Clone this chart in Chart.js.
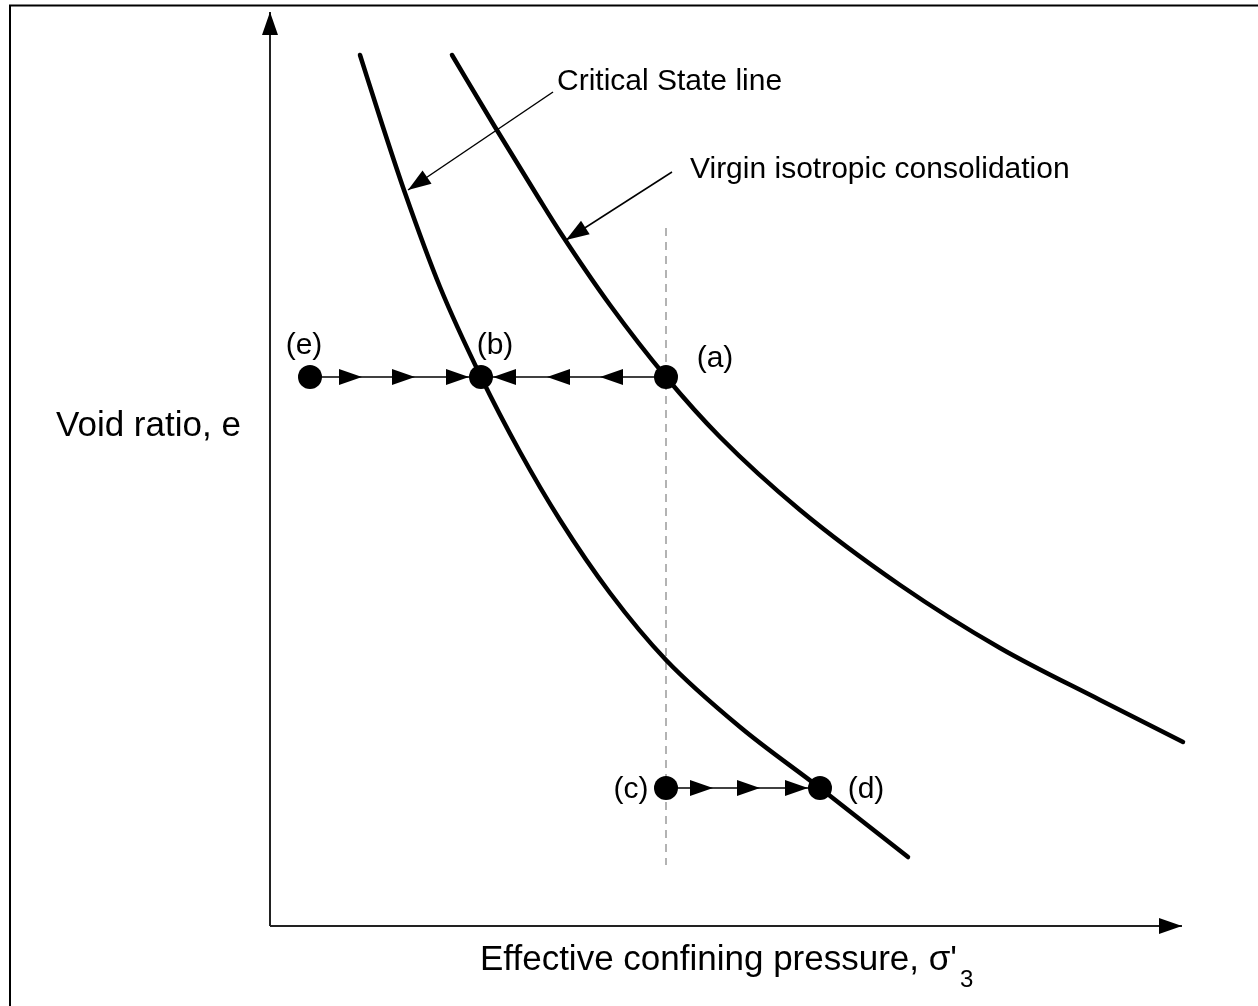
<!DOCTYPE html>
<html>
<head>
<meta charset="utf-8">
<script src="https://cdn.jsdelivr.net/npm/chart.js@4.4.1/dist/chart.umd.min.js"></script>
<style>
    html, body { margin: 0; padding: 0; background: #fff; }
    #wrap { width: 1258px; height: 1006px; }
</style>
</head>
<body>
<div id="wrap"><canvas id="chart" width="1258" height="1006"></canvas></div>
<script>
// Schematic units: origin at the axes corner, x = effective confining pressure, y = void ratio
const cslX = [90, 112, 135, 170, 211, 250, 290, 340, 396, 470, 550, 638];
const cslY = [871, 802, 733, 639, 549, 474, 406, 333, 266, 199, 138, 69];
const vicX = [182, 225, 268, 290, 340, 396, 450, 530, 630, 730, 830, 913];
const vicY = [871, 799, 729, 694, 621, 549, 489, 416, 341, 278, 226, 184];

// Soil states
const stateNames = ['(e)', '(b)', '(a)', '(c)', '(d)'];
const stateX = [40, 211, 396, 396, 550];
const stateY = [549, 549, 549, 138, 138];

// Stress paths (constant void ratio), with arrow tips along them
const pathEBx = [40, 92, 145, 199, 211];
const pathABx = [396, 330, 277, 223, 211];
const pathCDx = [396, 443, 490, 538, 550];

// Vertical reference at the pressure of (a) and (c)
const refX = 396;
const refY = [698, 61];

// Axis extents
const xAxisEnd = 912;
const yAxisEnd = 914;

const FONT = '"Liberation Sans", Arial, sans-serif';

function pts(xs, ys) {
    return xs.map((x, i) => ({ x: x, y: Array.isArray(ys) ? ys[i] : ys }));
}

// Frame round the figure
const framePlugin = {
    id: 'frame',
    beforeDraw(chart) {
        const ctx = chart.ctx;
        ctx.save();
        ctx.fillStyle = '#fff';
        ctx.fillRect(0, 0, chart.width, chart.height);
        ctx.strokeStyle = '#000';
        ctx.lineWidth = 2;
        ctx.beginPath();
        ctx.moveTo(10, chart.height);
        ctx.lineTo(10, 5.5);
        ctx.lineTo(chart.width, 5.5);
        ctx.stroke();
        ctx.restore();
    }
};

// Filled arrowheads at chosen points of a dataset, pointing along the segment
const arrowPlugin = {
    id: 'arrowheads',
    afterDatasetsDraw(chart) {
        const ctx = chart.ctx;
        const xs = chart.scales.x, ys = chart.scales.y;
        chart.data.datasets.forEach(ds => {
            if (!ds.arrowTips) return;
            const len = ds.arrowLen || 23, half = ds.arrowHalf || 8;
            ds.arrowTips.forEach(i => {
                const p = ds.data[i], q = ds.data[i - 1];
                const px = xs.getPixelForValue(p.x), py = ys.getPixelForValue(p.y);
                const qx = xs.getPixelForValue(q.x), qy = ys.getPixelForValue(q.y);
                const a = Math.atan2(py - qy, px - qx);
                ctx.save();
                ctx.translate(px, py);
                ctx.rotate(a);
                ctx.fillStyle = '#000';
                ctx.beginPath();
                ctx.moveTo(0, 0);
                ctx.lineTo(-len, -half);
                ctx.lineTo(-len, half);
                ctx.closePath();
                ctx.fill();
                ctx.restore();
            });
        });
    }
};

// Labels: axis titles, curve names and state letters
const labelPlugin = {
    id: 'labels',
    afterDraw(chart) {
        const ctx = chart.ctx;
        const xs = chart.scales.x, ys = chart.scales.y;
        ctx.save();
        ctx.fillStyle = '#000';
        ctx.textBaseline = 'alphabetic';

        ctx.font = '30px ' + FONT;
        ctx.textAlign = 'left';
        ctx.fillText('Critical State line', 557, 90);
        ctx.fillText('Virgin isotropic consolidation', 690, 178);

        // state letters, placed beside each dot
        const offsets = [[-6, -23], [14, -23], [49, -10], [-35, 10], [46, 10]];
        ctx.textAlign = 'center';
        stateNames.forEach((n, i) => {
            const px = xs.getPixelForValue(stateX[i]);
            const py = ys.getPixelForValue(stateY[i]);
            ctx.fillText(n, px + offsets[i][0], py + offsets[i][1]);
        });

        ctx.font = '35px ' + FONT;
        ctx.textAlign = 'left';
        ctx.fillText('Void ratio, e', 56, 436);
        const xt = 'Effective confining pressure, \u03c3\'';
        ctx.fillText(xt, 480, 970);
        const w = ctx.measureText(xt).width;
        ctx.font = '24px ' + FONT;
        ctx.fillText('3', 480 + w + 3, 987);
        ctx.restore();
    }
};

const ctx = document.getElementById('chart').getContext('2d');
new Chart(ctx, {
    type: 'scatter',
    data: {
        datasets: [
            {
                label: 'states',
                data: pts(stateX, stateY),
                pointRadius: 12,
                pointBackgroundColor: '#000',
                pointBorderWidth: 0,
                showLine: false
            },
            {
                label: 'e-b',
                data: pts(pathEBx, stateY[0]),
                showLine: true, borderColor: '#000', borderWidth: 1.5, pointRadius: 0,
                arrowTips: [1, 2, 3]
            },
            {
                label: 'a-b',
                data: pts(pathABx, stateY[2]),
                showLine: true, borderColor: '#000', borderWidth: 1.5, pointRadius: 0,
                arrowTips: [1, 2, 3]
            },
            {
                label: 'c-d',
                data: pts(pathCDx, stateY[3]),
                showLine: true, borderColor: '#000', borderWidth: 1.5, pointRadius: 0,
                arrowTips: [1, 2, 3]
            },
            {
                label: 'Critical State line',
                data: pts(cslX, cslY),
                showLine: true, borderColor: '#000', borderWidth: 4.5, pointRadius: 0,
                cubicInterpolationMode: 'monotone', borderCapStyle: 'round'
            },
            {
                label: 'Virgin isotropic consolidation',
                data: pts(vicX, vicY),
                showLine: true, borderColor: '#000', borderWidth: 4.5, pointRadius: 0,
                cubicInterpolationMode: 'monotone', borderCapStyle: 'round'
            },
            {
                label: 'csl pointer',
                data: [{ x: 283, y: 834 }, { x: 138, y: 736 }],
                showLine: true, borderColor: '#000', borderWidth: 1.5, pointRadius: 0,
                arrowTips: [1]
            },
            {
                label: 'vic pointer',
                data: [{ x: 402, y: 754 }, { x: 296, y: 686 }],
                showLine: true, borderColor: '#000', borderWidth: 1.5, pointRadius: 0,
                arrowTips: [1]
            },
            {
                label: 'reference',
                data: pts([refX, refX], refY),
                showLine: true, borderColor: '#9a9a9a', borderWidth: 1.5,
                borderDash: [8, 6], pointRadius: 0
            },
            {
                label: 'x axis',
                data: [{ x: 0, y: 0 }, { x: xAxisEnd, y: 0 }],
                showLine: true, borderColor: '#222', borderWidth: 2, pointRadius: 0,
                arrowTips: [1]
            },
            {
                label: 'y axis',
                data: [{ x: 0, y: 0 }, { x: 0, y: yAxisEnd }],
                showLine: true, borderColor: '#222', borderWidth: 2, pointRadius: 0,
                arrowTips: [1]
            }
        ]
    },
    options: {
        responsive: false,
        animation: false,
        layout: { padding: 0, autoPadding: false },
        clip: false,
        scales: {
            x: { type: 'linear', min: -270, max: 988, display: false },
            y: { type: 'linear', min: -80, max: 926, display: false }
        },
        plugins: {
            legend: { display: false },
            tooltip: { enabled: false }
        },
        events: []
    },
    plugins: [framePlugin, arrowPlugin, labelPlugin]
});
</script>
</body>
</html>
